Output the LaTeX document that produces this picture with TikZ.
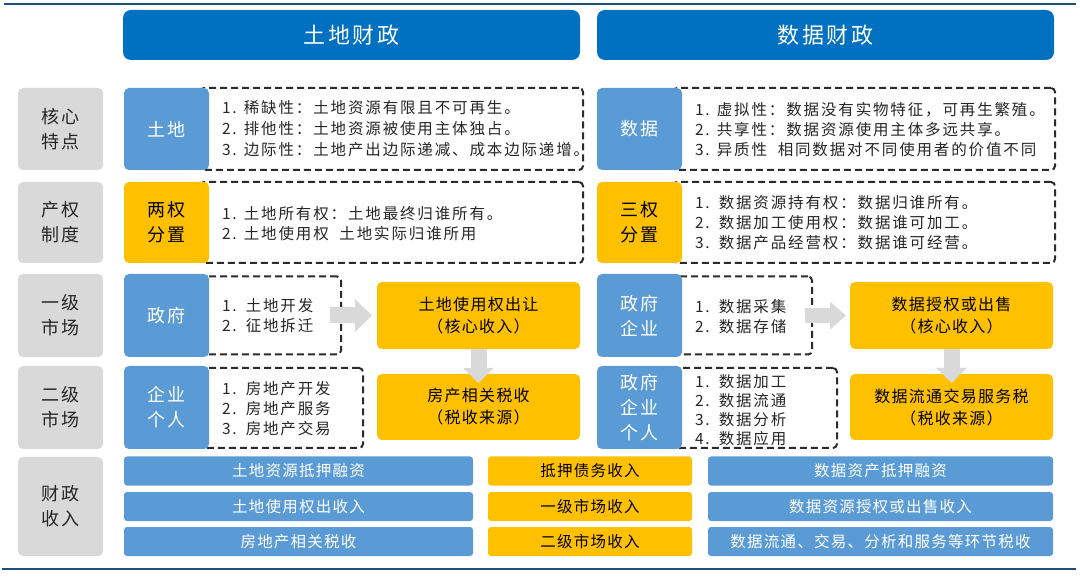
\documentclass[tikz,border=0pt]{standalone}
\usepackage{fontspec}
\setmainfont{Noto Sans CJK SC}
\newfontfamily\lsf[LetterSpace=8]{Noto Sans CJK SC}
\newfontfamily\lsw[LetterSpace=12]{Noto Sans CJK SC}
\usetikzlibrary{arrows.meta}
\definecolor{hdrblue}{HTML}{0070C0}
\definecolor{mblue}{HTML}{5B9BD5}
\definecolor{myel}{HTML}{FFC000}
\definecolor{lgray}{HTML}{D9D9D9}
\definecolor{agray}{HTML}{D9D9D9}
\definecolor{lineblue}{HTML}{1F4E79}
\definecolor{txt}{HTML}{262626}
\definecolor{dashc}{HTML}{2B2B2B}
\tikzset{
  hdr/.style={fill=hdrblue, rounded corners=8pt, text=white, font=\lsw\fontsize{22}{26}\selectfont, minimum width=457pt, minimum height=50pt},
  lbl/.style={fill=lgray, rounded corners=5pt, text=txt, minimum width=85pt, align=center, font=\lsf\fontsize{18}{25}\selectfont},
  bbox/.style={fill=mblue, rounded corners=5pt, text=white, minimum width=85pt, align=center, font=\lsf\fontsize{18}{25}\selectfont},
  ybox/.style={fill=myel, rounded corners=5pt, text=black, minimum width=85pt, align=center, font=\lsf\fontsize{18}{25}\selectfont},
  dbox/.style={draw=dashc, line width=2pt, dash pattern=on 7pt off 4pt, rounded corners=4pt},
  dtext/.style={anchor=west, align=left, text=txt, font=\lsw\fontsize{15.5}{20}\selectfont},
  yinfo/.style={fill=myel, rounded corners=5pt, text=black, minimum width=203pt, align=center, font=\lsf\fontsize{16}{22}\selectfont},
  bar/.style={rounded corners=3pt, minimum height=29pt, font=\lsf\fontsize{15.5}{18}\selectfont},
  bbar/.style={bar, fill=mblue, text=white},
  ybar/.style={bar, fill=myel, text=black},
  harrow/.style={draw=agray, line width=16pt, -{Triangle[length=17pt,width=32pt]}},
  harrowr/.style={draw=agray, line width=15pt, -{Triangle[length=16pt,width=27pt]}},
  varrow/.style={draw=agray, line width=16pt, -{Triangle[length=15pt,width=30pt]}},
  every node/.style={inner sep=0pt, outer sep=0pt}
}
\begin{document}
\begin{tikzpicture}[x=1pt,y=-1pt]
\useasboundingbox (0,0) rectangle (1080,577);
\draw[lineblue, line width=2pt] (4,4) -- (1076,4);
\draw[lineblue, line width=2pt] (2,569) -- (1076,569);

% headers
\node[hdr] (hL) at (351.5,35) {土地财政};
\node[hdr] (hR) at (825.5,35) {数据财政};

% row labels
\node[lbl, minimum height=82pt] (l1) at (60.5,129) {核心\\特点};
\node[lbl, minimum height=81pt] (l2) at (60.5,222.5) {产权\\制度};
\node[lbl, minimum height=83pt] (l3) at (60.5,315.5) {一级\\市场};
\node[lbl, minimum height=83pt] (l4) at (60.5,407.5) {二级\\市场};
\node[lbl, minimum height=99pt] (l5) at (60.5,506.5) {财政\\收入};

% row 1
\node[dbox, minimum width=383pt, minimum height=82pt] (d1l) at (391.5,129) {};
\node[dbox, minimum width=382pt, minimum height=82pt] (d1r) at (864,129) {};
\node[bbox, minimum height=82pt] (b1l) at (166.5,129) {土地};
\node[bbox, minimum height=82pt] (b1r) at (639.5,129) {数据};
\node[dtext, font=\lsw\fontsize{15.5}{21}\selectfont] (t1l) at (222,129) {1. 稀缺性：土地资源有限且不可再生。\\2. 排他性：土地资源被使用主体独占。\\3. 边际性：土地产出边际递减、成本边际递增。};
\node[dtext, font=\lsw\fontsize{15.5}{20}\selectfont] (t1r) at (695,130) {1. 虚拟性：数据没有实物特征，可再生繁殖。\\2. 共享性：数据资源使用主体多远共享。\\3. 异质性\ \ 相同数据对不同使用者的价值不同};

% row 2
\node[dbox, minimum width=383pt, minimum height=81pt] (d2l) at (391.5,222.5) {};
\node[dbox, minimum width=382pt, minimum height=81pt] (d2r) at (864,222.5) {};
\node[ybox, minimum height=81pt] (b2l) at (166.5,222.5) {两权\\分置};
\node[ybox, minimum height=81pt] (b2r) at (639.5,222.5) {三权\\分置};
\node[dtext] (t2l) at (222,224) {1. 土地所有权：土地最终归谁所有。\\2. 土地使用权\ \ 土地实际归谁所用};
\node[dtext] (t2r) at (695,223) {1.\hspace{9pt}数据资源持有权：数据归谁所有。\\2.\hspace{9pt}数据加工使用权：数据谁可加工。\\3.\hspace{9pt}数据产品经营权：数据谁可经营。};

% row 3
\node[dbox, minimum width=141pt, minimum height=78pt] (d3l) at (270.5,315.5) {};
\node[dbox, minimum width=139pt, minimum height=78pt] (d3r) at (742.5,315.5) {};
\node[bbox, minimum height=83pt] (b3l) at (166.5,315.5) {政府};
\node[bbox, minimum height=83pt] (b3r) at (639.5,315.5) {政府\\企业};
\node[dtext] (t3l) at (222,316) {1.\hspace{9pt}土地开发\\2.\hspace{9pt}征地拆迁};
\node[dtext] (t3r) at (695,317) {1.\hspace{9pt}数据采集\\2.\hspace{9pt}数据存储};
\node[yinfo, minimum height=67pt] (y3l) at (478.5,315.5) {土地使用权出让\\（核心收入）};
\node[yinfo, minimum height=67pt] (y3r) at (951.5,315.5) {数据授权或出售\\（核心收入）};

% row 4
\node[dbox, minimum width=163pt, minimum height=80pt] (d4l) at (281.5,408) {};
\node[dbox, minimum width=164pt, minimum height=80pt] (d4r) at (755,408) {};
\node[bbox, minimum height=83pt] (b4l) at (166.5,407.5) {企业\\个人};
\node[bbox, minimum height=83pt] (b4r) at (639.5,407.5) {政府\\企业\\个人};
\node[dtext] (t4l) at (222,409) {1.\hspace{9pt}房地产开发\\2.\hspace{9pt}房地产服务\\3.\hspace{9pt}房地产交易};
\node[dtext, font=\lsw\fontsize{15.5}{19}\selectfont] (t4r) at (695,410) {1.\hspace{9pt}数据加工\\2.\hspace{9pt}数据流通\\3.\hspace{9pt}数据分析\\4.\hspace{9pt}数据应用};
\node[yinfo, minimum height=66pt] (y4l) at (478.5,407) {房产相关税收\\（税收来源）};
\node[yinfo, minimum height=66pt] (y4r) at (951.5,407) {数据流通交易服务税\\（税收来源）};

% arrows
\draw[harrow] ([xshift=-11pt]d3l.east) -- ([xshift=-5pt]y3l.west);
\draw[harrowr] ([xshift=-7pt]d3r.east) -- ([xshift=-4pt]y3r.west);
\draw[varrow] (y3l.south) -- ([yshift=-9pt]y4l.north);
\draw[varrow] (y3r.south) -- ([yshift=-9pt]y4r.north);

% row 5 bars
\node[bbar, minimum width=349pt] (f1l) at (298.5,471) {土地资源抵押融资};
\node[bbar, minimum width=349pt] (f2l) at (298.5,506.5) {土地使用权出收入};
\node[bbar, minimum width=349pt] (f3l) at (298.5,541.5) {房地产相关税收};
\node[ybar, minimum width=204pt] (f1m) at (590,471) {抵押债务收入};
\node[ybar, minimum width=204pt] (f2m) at (590,506.5) {一级市场收入};
\node[ybar, minimum width=204pt] (f3m) at (590,541.5) {二级市场收入};
\node[bbar, minimum width=345pt] (f1r) at (880.5,471) {数据资产抵押融资};
\node[bbar, minimum width=345pt] (f2r) at (880.5,506.5) {数据资源授权或出售收入};
\node[bbar, minimum width=345pt] (f3r) at (880.5,541.5) {数据流通、交易、分析和服务等环节税收};
\end{tikzpicture}
\end{document}
